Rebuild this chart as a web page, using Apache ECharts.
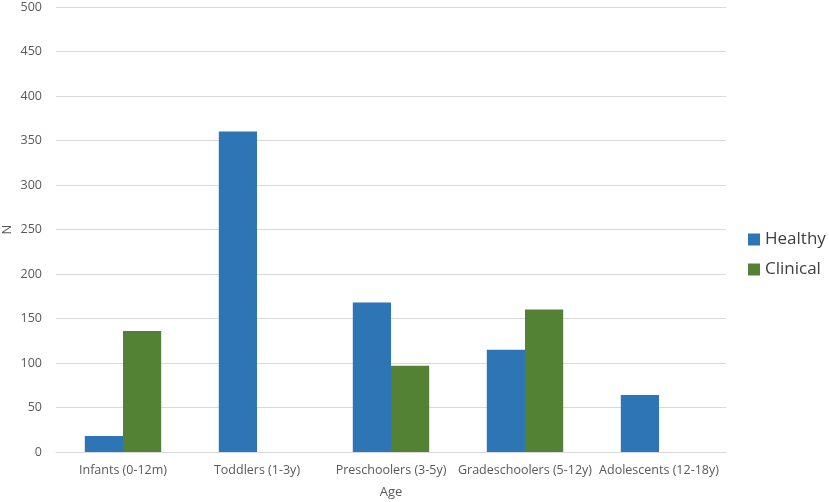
<!DOCTYPE html>
<html>
<head>
<meta charset="utf-8">
<script src="https://cdn.jsdelivr.net/npm/echarts@6/dist/echarts.min.js"></script>
<style>
	html, body { margin: 0; padding: 0; background: #fff; }
	#chart { width: 829px; height: 502px; }
</style>
</head>
<body>
<div id="chart"></div>
<script>
	// data
	var categories = ['Infants (0-12m)', 'Toddlers (1-3y)', 'Preschoolers (3-5y)', 'Gradeschoolers (5-12y)', 'Adolescents (12-18y)'];
	var healthy = [18, 360, 168, 115, 64];
	var clinical = [136, 0, 97, 160, 0];
	var seriesNames = ['Healthy', 'Clinical'];

	var chart = echarts.init(document.getElementById('chart'));
	var font = '"Open Sans", "Noto Sans", sans-serif';

	var option = {
		animation: false,
		textStyle: { fontFamily: font },
		grid: { left: 56, right: 103, top: 7, bottom: 50, outerBoundsMode: 'none', containLabel: false },
		legend: {
			orient: 'vertical',
			left: 743,
			top: 226,
			itemWidth: 12,
			itemHeight: 12,
			itemGap: 13,
			icon: 'rect',
			data: seriesNames,
			textStyle: { fontSize: 17, color: '#404040', fontFamily: font }
		},
		xAxis: {
			type: 'category',
			data: categories,
			name: 'Age',
			nameLocation: 'middle',
			nameGap: 34,
			nameMoveOverlap: false,
			nameTextStyle: { fontSize: 13, color: '#595959' },
			axisLine: { lineStyle: { color: '#d9d9d9' } },
			axisTick: { show: false },
			axisLabel: { fontSize: 12.5, color: '#595959', margin: 12, interval: 0 }
		},
		yAxis: {
			type: 'value',
			min: 0,
			max: 500,
			interval: 50,
			name: 'N',
			nameLocation: 'middle',
			nameGap: 42,
			nameMoveOverlap: false,
			nameTextStyle: { fontSize: 13, color: '#595959' },
			axisLine: { show: false },
			axisTick: { show: false },
			axisLabel: { fontSize: 12.5, color: '#595959', margin: 14 },
			splitLine: { lineStyle: { color: '#d9d9d9' } }
		},
		series: [
			{
				name: seriesNames[0],
				type: 'bar',
				data: healthy,
				barGap: '0%',
				barCategoryGap: '43%',
				itemStyle: { color: '#2e75b6' }
			},
			{
				name: seriesNames[1],
				type: 'bar',
				data: clinical,
				itemStyle: { color: '#548235' }
			}
		]
	};

	chart.setOption(option);
</script>
</body>
</html>
